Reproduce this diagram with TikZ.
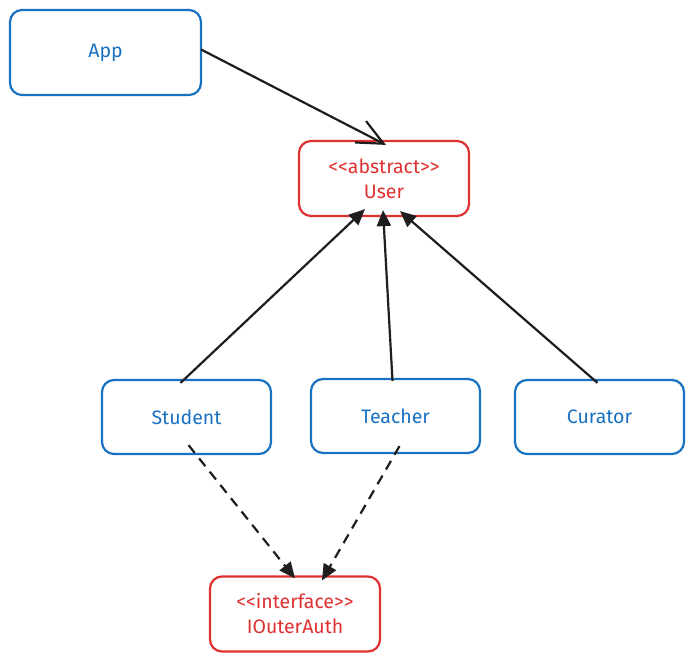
\documentclass[tikz,border=0pt]{standalone}
\usepackage{fontspec}
\setmainfont{Fira Sans}
\usetikzlibrary{arrows.meta}
\definecolor{eblue}{HTML}{1971C2}
\definecolor{ered}{HTML}{E03131}
\definecolor{eink}{HTML}{1E1E1E}
\begin{document}
\begin{tikzpicture}[x=1pt,y=-1pt,
  box/.style={draw,line width=2.2pt,rounded corners=12pt,minimum width=#1,inner sep=0pt,align=center,font=\fontsize{19.5}{25}\selectfont},
  bluebox/.style={box=170pt,draw=eblue,text=eblue,minimum height=74pt},
  redbox/.style={box=170pt,draw=ered,text=ered,minimum height=75pt},
  conn/.style={draw=eink,line width=2.2pt},
  inh/.style={conn,-{Triangle[length=16pt,width=14pt]}},
  dep/.style={conn,dash pattern=on 10pt off 7pt,-{Triangle[length=16pt,width=14pt]}},
  assoc/.style={conn,-{Straight Barb[length=26pt,width=24pt,line width=2.2pt]}}]
\useasboundingbox[fill=white] (0,0) rectangle (694,662);
\node[bluebox,minimum width=191pt,minimum height=85pt] (app) at (105.5,52.5) {App};
\node[redbox] (user) at (384,178.5) {{<}{<}abstract{>}{>}\\User};
\node[bluebox,minimum width=169pt] (student) at (186.5,417) {Student};
\node[bluebox,minimum width=169pt] (teacher) at (395.5,416) {Teacher};
\node[bluebox,minimum width=169pt] (curator) at (599.5,417) {Curator};
\node[redbox] (auth) at (295,614) {{<}{<}interface{>}{>}\\IOuterAuth};
\draw[assoc] ([xshift=-1pt,yshift=3pt]app.east) -- ([xshift=2pt,yshift=-5pt]user.north);
\draw[inh] ([xshift=-6pt,yshift=-4pt]student.north) -- ([xshift=-19pt,yshift=8pt]user.south);
\draw[inh] ([xshift=-3pt,yshift=-3pt]teacher.north) -- ([xshift=-1pt,yshift=7pt]user.south);
\draw[inh] ([xshift=-2pt,yshift=-4pt]curator.north) -- ([xshift=16pt,yshift=6pt]user.south);
\draw[dep] ([xshift=2pt,yshift=10pt]student.south) -- ([xshift=0pt,yshift=-3pt]auth.north);
\draw[dep] ([xshift=4pt,yshift=8pt]teacher.south) -- ([xshift=27pt,yshift=-5pt]auth.north);
\end{tikzpicture}
\end{document}
